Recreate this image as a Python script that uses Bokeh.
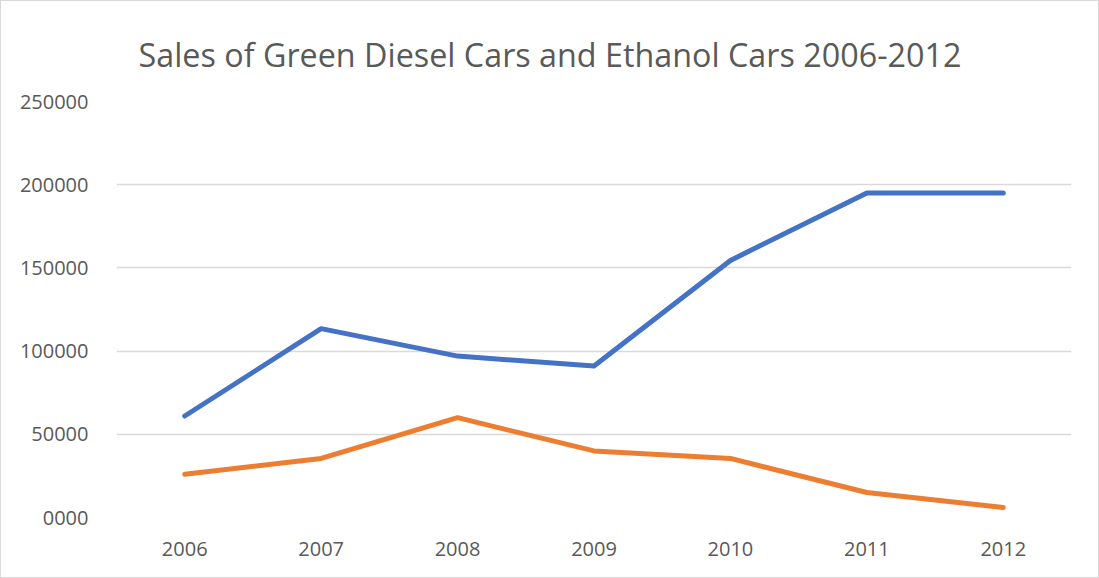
from bokeh.plotting import figure
from bokeh.models import FactorRange, Range1d, FixedTicker, Title
from bokeh.embed import file_html
from bokeh.resources import INLINE

years = ["2006", "2007", "2008", "2009", "2010", "2011", "2012"]
green_diesel = [61000, 113500, 97000, 91000, 154500, 195000, 195000]
ethanol = [26000, 35500, 60000, 40000, 35500, 15000, 6000]
y_ticks = [0, 50000, 100000, 150000, 200000, 250000]
y_tick_labels = ["0000", "50000", "100000", "150000", "200000", "250000"]

TEXT = "#595959"
FONT = "Open Sans"

p = figure(width=1099, height=578, output_backend="svg", toolbar_location=None,
           x_range=FactorRange(*years), y_range=Range1d(0, 250000),
           min_border_left=115, min_border_right=29, min_border_top=100,
           min_border_bottom=62)

p.title = Title(text="Sales of Green Diesel Cars and Ethanol Cars 2006-2012",
                text_font=FONT, text_font_size="32.3px", text_color=TEXT,
                text_font_style="normal", align="left", offset=22, standoff=52)

p.line(years, green_diesel, line_color="#4472C4", line_width=5,
       line_cap="round", line_join="round")
p.line(years, ethanol, line_color="#ED7D31", line_width=5,
       line_cap="round", line_join="round")

p.outline_line_color = None
p.xgrid.grid_line_color = None
p.ygrid.grid_line_color = "#d9d9d9"
p.ygrid.grid_line_width = 1.5

p.yaxis.ticker = FixedTicker(ticks=y_ticks)
p.yaxis.major_label_overrides = {t: l for t, l in zip(y_ticks, y_tick_labels)}
for ax in (p.xaxis, p.yaxis):
    ax.axis_line_color = None
    ax.major_tick_line_color = None
    ax.minor_tick_line_color = None
    ax.major_label_text_font = FONT
    ax.major_label_text_font_size = "20px"
    ax.major_label_text_color = TEXT
p.yaxis.major_label_standoff = 22
p.xaxis.major_label_standoff = 18

p.styles = {"border": "1px solid #d9d9d9", "box-sizing": "border-box"}

open("out.html", "w").write(file_html(p, INLINE))
